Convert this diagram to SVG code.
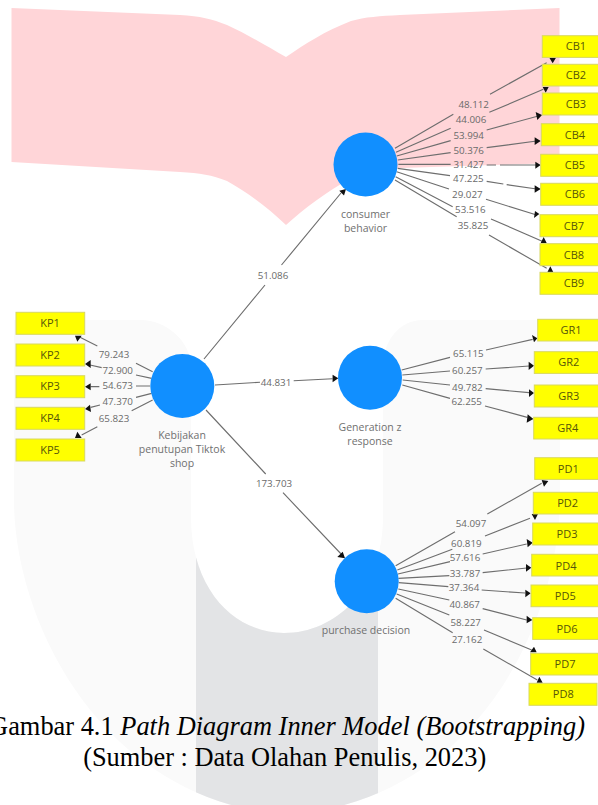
<svg xmlns="http://www.w3.org/2000/svg" width="598" height="805" viewBox="0 0 598 805">
<style>
text{font-family:"Open Sans","Noto Sans","Liberation Sans",sans-serif;text-anchor:middle}
.box{fill:#ffff00;stroke:#d8d860;stroke-width:1}
.box-t{font-size:11px;fill:#55550a}
.lv{fill:#118fff}
.lv-t{font-size:10.5px;fill:#707070}
.val{font-size:9.8px;fill:#6a6a6a}
.v3{font-size:29.4px;fill:#6a6a6a}
.ln{fill:none;stroke:#6e6e6e;stroke-width:3.4}
.ln1{fill:none;stroke:#6e6e6e;stroke-width:1.15}
.ah{fill:#111}
.cap{font-family:"Liberation Serif","Times New Roman",serif;font-size:26.4px;fill:#000}
</style>
<defs>
<path id="u" d="M14 320L141 320C165 320 191 340 191 367L191 517C191 590 235 633 284 633C335 633 383 590 383 517L383 367C383 340 400 320 423 320L560 320L560 500C558 620 480 800 287 815C100 800 14 620 14 500Z"/>
<clipPath id="uc"><use href="#u"/></clipPath>
</defs>
<g id="background">
<rect width="598" height="805" fill="#fff"/>
<path d="M11.5 8L180 15C200 16 212 19 227 25C247 34 268 47 286 57C305 44 325 31 351 21C365 17 380 16 400 15L559.5 8L559.5 163L400 168C380 169 365 171 351 178C325 193 305 208 286 225C268 208 247 192 227 181C212 175 200 173 180 172L11.5 162Z" fill="#ffd5d8"/>
<use href="#u" fill="#fafafa"/>
<rect x="196" y="500" width="182" height="305" fill="#e3e4e6" clip-path="url(#uc)"/>
</g>
<g id="connectors">
<g transform="translate(330 20) scale(.33333)">
<path class="ln" d="M195 385L370 283M480 223L650 128M198 397L362 325M478 277L640 208M200 408L362 362M470 330L625 288M203 420L362 398M470 383L620 363M205 433L362 433M470 435L498 435M510 435L620 435M203 445L360 467M470 484L520 492M530 494L620 507M200 455L357 507M468 538L620 585M197 470L368 560M483 597L640 665M195 480L380 590M477 645L650 745"/>
<path class="ah" d="M658 113L678 113L668 130ZM638 201L656 201L647 218ZM617 276L636 285L622 300ZM614 352L632 363L614 375ZM616 425L632 435L616 446ZM614 496L632 507L614 518ZM612 594L628 582L615 573ZM632 669L650 669L641 651ZM652 757L670 757L661 739Z"/>
<text class="v3" x="431" y="263">48.112</text>
<text class="v3" x="423" y="310">44.006</text>
<text class="v3" x="416" y="357">53.994</text>
<text class="v3" x="416" y="403">50.376</text>
<text class="v3" x="416" y="444">31.427</text>
<text class="v3" x="415" y="486">47.225</text>
<text class="v3" x="412" y="533">29.027</text>
<text class="v3" x="421" y="580">53.516</text>
<text class="v3" x="429" y="628">35.825</text>
</g>
<g transform="translate(0 300) scale(.33333)">
<path class="ln" d="M458 215L408 190M292 138L240 112M455 235L408 225M305 203L270 195M450 258L408 258M298 260L272 260M455 280L408 292M300 315L272 322M458 300L395 332M292 380L245 405"/>
<path class="ah" d="M225 107L245 107L232 125ZM255 192L272 180L272 204ZM255 260L272 250L272 271ZM255 327L270 314L273 336ZM225 414L245 414L232 395Z"/>
<text class="v3" x="342" y="173">79.243</text>
<text class="v3" x="353" y="223">72.900</text>
<text class="v3" x="353" y="268">54.673</text>
<text class="v3" x="353" y="314">47.370</text>
<text class="v3" x="342" y="365">65.823</text>
</g>
<g>
<path class="ln1" d="M204 359L265 285M281.5 265L341 193M215 385L260 382.3M293.7 380.7L332.6 378.7M206 410L265.7 474M283 492.7L343 556"/>
<path class="ah" d="M346 189L339.3 190.7L344 195.5ZM338.3 378.3L332.6 374.7L332.6 382.3ZM345 558.3L337.3 557L342.7 551.7Z"/>
<text class="val" x="273" y="278.5">51.086</text>
<text class="val" x="276" y="385.8">44.831</text>
<text class="val" x="274" y="486.5">173.703</text>
</g>
<g transform="translate(330 310) scale(.33333)">
<path class="ln" d="M215 180L360 142M468 120L608 88M217 195L360 183M467 177L598 168M218 210L360 225M467 236L597 248M217 225L360 265M465 288L592 322"/>
<path class="ah" d="M622 85L606 75L612 97ZM612 167L596 155L596 180ZM612 249L597 238L597 261ZM610 327L593 313L590 338Z"/>
<text class="v3" x="415" y="142">65.115</text>
<text class="v3" x="412" y="193">60.257</text>
<text class="v3" x="412" y="242">49.782</text>
<text class="v3" x="410" y="285">62.255</text>
</g>
<g transform="translate(330 450) scale(.33333)">
<path class="ln" d="M197 347L375 245M472 192L635 100M202 360L367 298M465 258L600 205M204 372L360 335M458 312L590 282M205 385L358 377M458 368L590 354M206 398L355 410M455 420L585 429M205 417L358 450M458 476L590 510M200 432L358 495M462 540L605 600M197 445L368 548M460 597L622 690"/>
<path class="ah" d="M635 90L655 93L642 110ZM605 192L624 192L615 210ZM608 278L590 267L593 292ZM604 353L588 342L588 365ZM602 430L586 419L586 442ZM607 510L590 497L590 520ZM600 607L620 607L612 590ZM620 698L638 698L628 680Z"/>
<text class="v3" x="423" y="232">54.097</text>
<text class="v3" x="409" y="290">60.819</text>
<text class="v3" x="405" y="334">57.616</text>
<text class="v3" x="405" y="381">33.787</text>
<text class="v3" x="402" y="424">37.364</text>
<text class="v3" x="404" y="474">40.867</text>
<text class="v3" x="407" y="528">58.227</text>
<text class="v3" x="411" y="579">27.162</text>
</g>
</g>
<g id="node-consumer-behavior"><circle class="lv" cx="365.5" cy="164.5" r="32"/><text class="lv-t" x="365.5" y="217.5">consumer</text><text class="lv-t" x="365.5" y="231.5">behavior</text></g>
<g id="node-kebijakan"><circle class="lv" cx="182.3" cy="386" r="32"/><text class="lv-t" x="182" y="438.5">Kebijakan</text><text class="lv-t" x="182" y="452.5">penutupan Tiktok</text><text class="lv-t" x="182" y="466.5">shop</text></g>
<g id="node-generation-z"><circle class="lv" cx="370" cy="377.7" r="32"/><text class="lv-t" x="370" y="430.5">Generation z</text><text class="lv-t" x="370" y="444.5">response</text></g>
<g id="node-purchase-decision"><circle class="lv" cx="366.7" cy="581.3" r="32"/><text class="lv-t" x="366" y="634">purchase decision</text></g>
<g id="KP1"><rect class="box" x="16" y="312.3" width="68.7" height="22"/><text class="box-t" x="50" y="327">KP1</text></g>
<g id="KP2"><rect class="box" x="16" y="344" width="68.7" height="22"/><text class="box-t" x="50" y="358.7">KP2</text></g>
<g id="KP3"><rect class="box" x="16" y="375.7" width="68.7" height="22"/><text class="box-t" x="50" y="390.4">KP3</text></g>
<g id="KP4"><rect class="box" x="16" y="407.3" width="68.7" height="22"/><text class="box-t" x="50" y="422">KP4</text></g>
<g id="KP5"><rect class="box" x="16" y="439" width="68.7" height="22"/><text class="box-t" x="50" y="453.7">KP5</text></g>
<g id="CB1"><rect class="box" x="542.3" y="35.7" width="68" height="21.7"/><text class="box-t" x="576" y="50">CB1</text></g>
<g id="CB2"><rect class="box" x="542.3" y="64.3" width="68" height="21.7"/><text class="box-t" x="576" y="79">CB2</text></g>
<g id="CB3"><rect class="box" x="542.3" y="93" width="68" height="22"/><text class="box-t" x="576" y="108">CB3</text></g>
<g id="CB4"><rect class="box" x="541.3" y="123.7" width="68" height="22"/><text class="box-t" x="575" y="139">CB4</text></g>
<g id="CB5"><rect class="box" x="540.7" y="154.3" width="68" height="22"/><text class="box-t" x="575" y="169">CB5</text></g>
<g id="CB6"><rect class="box" x="540.7" y="183.3" width="68" height="22"/><text class="box-t" x="575" y="198">CB6</text></g>
<g id="CB7"><rect class="box" x="540" y="214.7" width="68" height="22"/><text class="box-t" x="574" y="229.5">CB7</text></g>
<g id="CB8"><rect class="box" x="540" y="243.7" width="68" height="22"/><text class="box-t" x="574" y="258.5">CB8</text></g>
<g id="CB9"><rect class="box" x="540" y="272.3" width="68" height="22"/><text class="box-t" x="574" y="287">CB9</text></g>
<g id="GR1"><rect class="box" x="537.7" y="319.3" width="68" height="21.7"/><text class="box-t" x="571" y="334">GR1</text></g>
<g id="GR2"><rect class="box" x="534.3" y="351.7" width="68" height="21.7"/><text class="box-t" x="568.7" y="366.3">GR2</text></g>
<g id="GR3"><rect class="box" x="534.3" y="385" width="68" height="22"/><text class="box-t" x="568.7" y="399.7">GR3</text></g>
<g id="GR4"><rect class="box" x="533.7" y="417.3" width="68" height="21.7"/><text class="box-t" x="567.7" y="431.7">GR4</text></g>
<g id="PD1"><rect class="box" x="534.7" y="457.7" width="68" height="21.7"/><text class="box-t" x="568.3" y="473">PD1</text></g>
<g id="PD2"><rect class="box" x="533.3" y="492.3" width="68" height="21.7"/><text class="box-t" x="567.7" y="507.3">PD2</text></g>
<g id="PD3"><rect class="box" x="532.7" y="523" width="68" height="22"/><text class="box-t" x="567" y="538.3">PD3</text></g>
<g id="PD4"><rect class="box" x="531.7" y="554.3" width="68" height="21.7"/><text class="box-t" x="566" y="569.7">PD4</text></g>
<g id="PD5"><rect class="box" x="531" y="585" width="68" height="21.7"/><text class="box-t" x="565.3" y="600">PD5</text></g>
<g id="PD6"><rect class="box" x="532.7" y="617.7" width="68" height="21.7"/><text class="box-t" x="567" y="632.7">PD6</text></g>
<g id="PD7"><rect class="box" x="530.7" y="653.3" width="68" height="21.7"/><text class="box-t" x="565" y="667.7">PD7</text></g>
<g id="PD8"><rect class="box" x="529" y="683.3" width="68" height="22"/><text class="box-t" x="563.3" y="698.3">PD8</text></g>
<g id="caption">
<text class="cap" x="585" y="735" style="text-anchor:end">Gambar 4.1 <tspan font-style="italic">Path Diagram Inner Model (Bootstrapping)</tspan></text>
<text class="cap" x="284.7" y="766">(Sumber : Data Olahan Penulis, 2023)</text>
</g>
</svg>
